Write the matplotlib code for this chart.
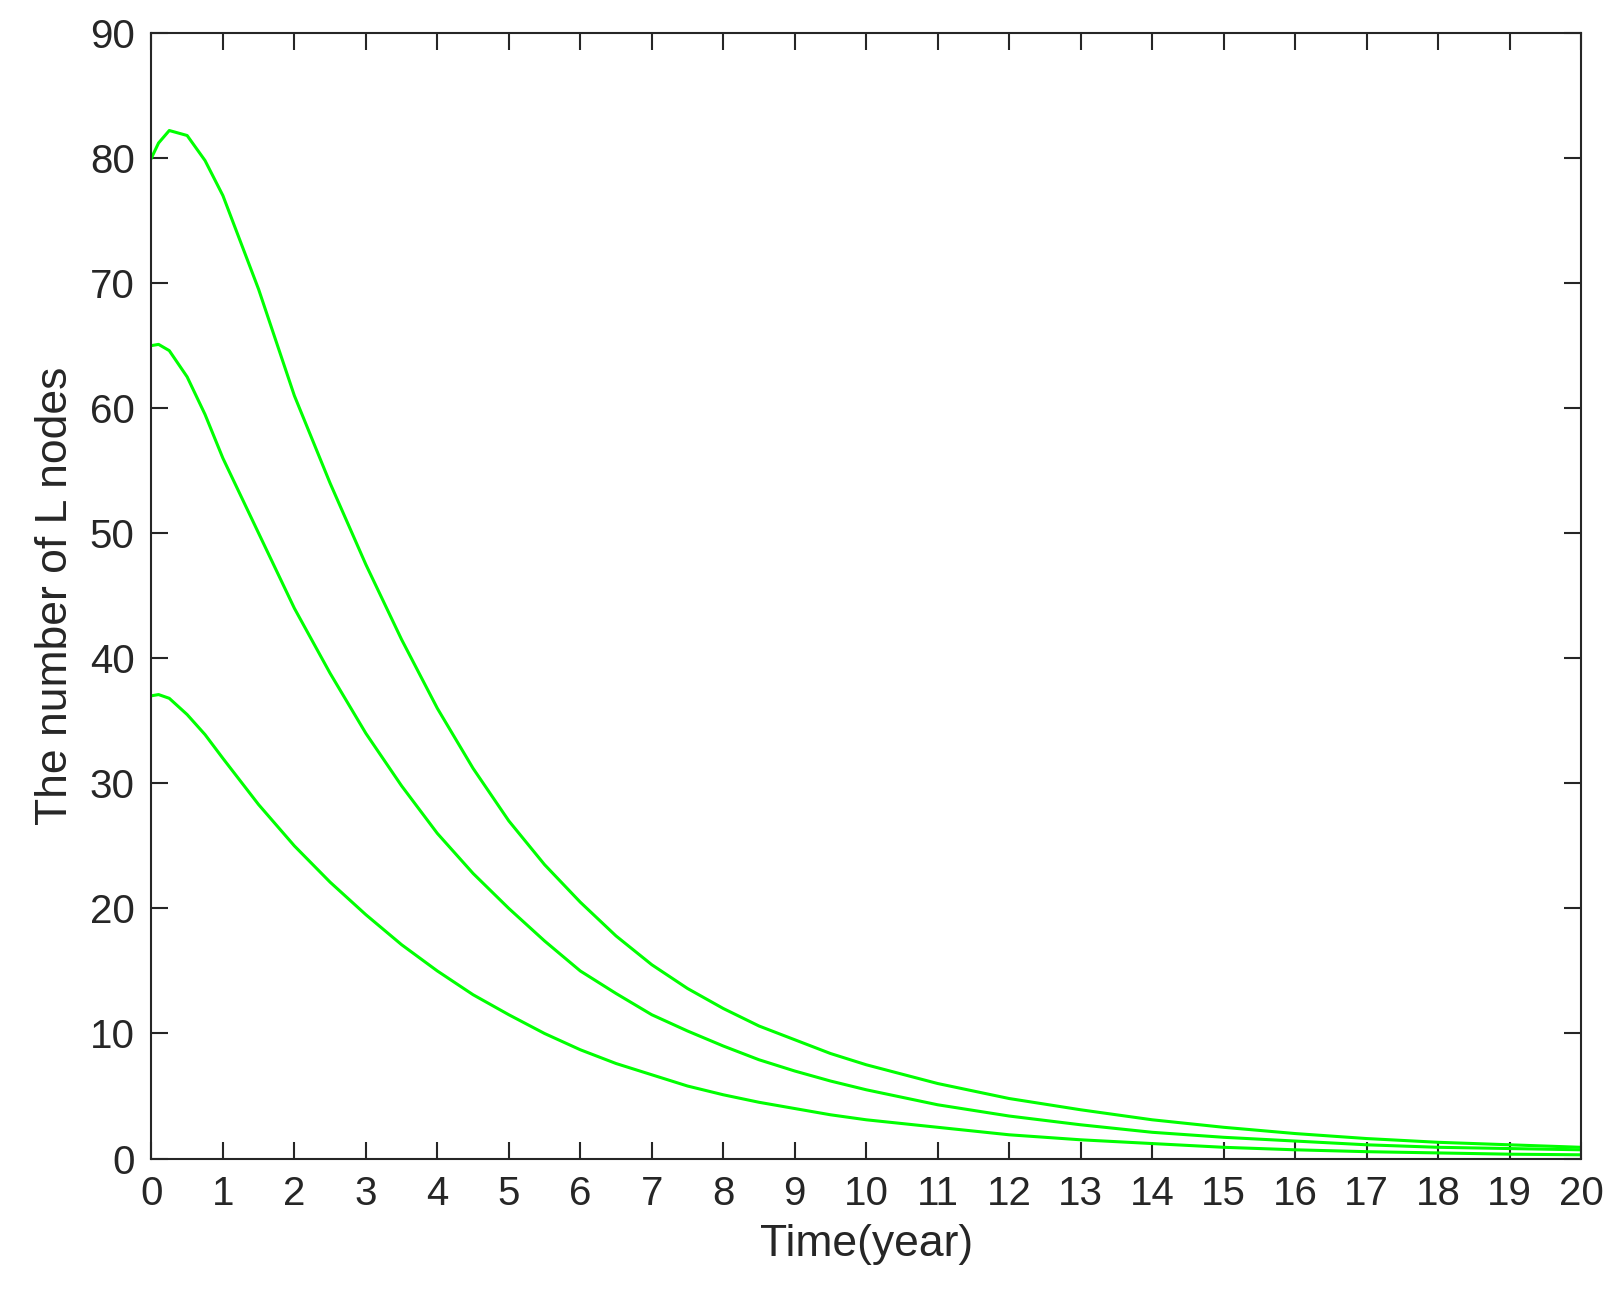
import matplotlib.pyplot as plt

plt.rcParams['font.family'] = ['Liberation Sans', 'DejaVu Sans']

# values
t_all = [0, 0.1, 0.25, 0.5, 0.75, 1, 1.5, 2, 2.5, 3, 3.5, 4, 4.5, 5, 5.5, 6, 6.5, 7, 7.5, 8, 8.5, 9, 9.5,
         10, 11, 12, 13, 14, 15, 16, 17, 18, 19, 20]
top = [80, 81.2, 82.2, 81.8, 79.8, 77, 69.5, 61, 54, 47.5, 41.5, 36, 31.2, 27, 23.5, 20.5, 17.8, 15.5, 13.6, 12,
       10.6, 9.5, 8.4, 7.5, 6, 4.8, 3.9, 3.1, 2.5, 2.0, 1.6, 1.3, 1.1, 0.9]
mid = [65, 65.1, 64.6, 62.5, 59.5, 56, 50, 44, 38.8, 34, 29.8, 26, 22.8, 20, 17.4, 15, 13.2, 11.5, 10.2, 9,
       7.9, 7, 6.2, 5.5, 4.3, 3.4, 2.7, 2.1, 1.7, 1.4, 1.1, 0.9, 0.8, 0.7]
low = [37, 37.1, 36.8, 35.5, 33.9, 32, 28.3, 25, 22.1, 19.5, 17.1, 15, 13.1, 11.5, 10, 8.7, 7.6, 6.7, 5.8, 5.1,
       4.5, 4, 3.5, 3.1, 2.5, 1.9, 1.5, 1.2, 0.9, 0.7, 0.55, 0.45, 0.35, 0.3]

fig = plt.figure(figsize=(16.15, 13.12), dpi=100)
W, H = 1568, 1274
ax = fig.add_axes([147 / W, 1 - 1125 / H, (1535 - 147) / W, (1125 - 32) / H])

for y in [top, mid, low]:
    ax.plot(t_all, y, color='#00ff00', lw=2.2)

ax.set_xlim(0, 20)
ax.set_ylim(0, 90)
ax.set_xticks(range(0, 21))
ax.set_yticks(range(0, 91, 10))
ax.tick_params(direction='in', length=12, width=1.5, labelsize=29, colors='#262626',
               top=True, right=True, pad=12)
for s in ax.spines.values():
    s.set_linewidth(1.5)
    s.set_color('#262626')
ax.set_xlabel('Time(year)', fontsize=32, color='#262626', labelpad=8)
ax.set_ylabel('The number of L nodes', fontsize=32, color='#262626', labelpad=10)

fig.savefig('out.png')
